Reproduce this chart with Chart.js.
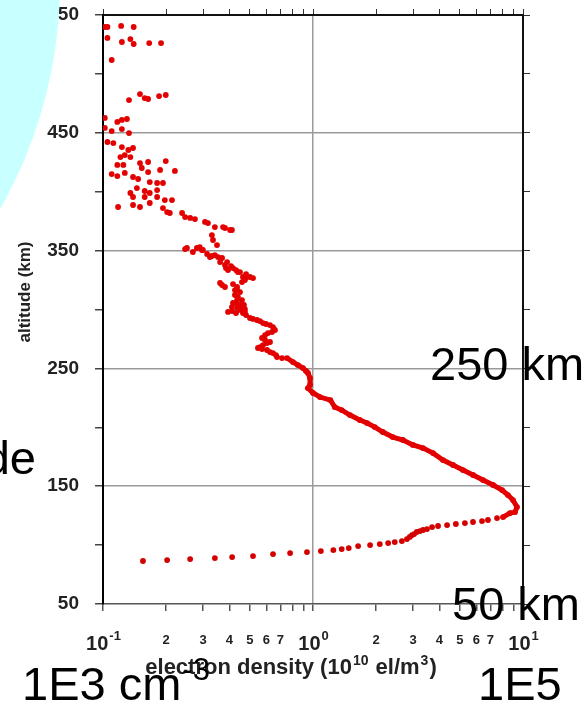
<!DOCTYPE html>
<html>
<head>
<meta charset="utf-8">
<title>Electron density profile</title>
<script src="https://cdn.jsdelivr.net/npm/chart.js@4.4.0/dist/chart.umd.min.js"></script>
<style>
  html, body { margin: 0; padding: 0; background: #fff; }
  #wrap { position: relative; width: 587px; height: 704px; }
</style>
</head>
<body>
<div id="wrap"><canvas id="chart"></canvas></div>
<script>
// topside samples (scattered), density in 1e10 el/m^3, altitude in km
const topDensity = [
  0.102, 0.105, 0.122, 0.140, 0.105, 0.123, 0.135, 0.140, 0.166, 0.189,
  0.110, 0.133, 0.150, 0.158, 0.164, 0.185, 0.199, 0.102, 0.117, 0.123,
  0.130, 0.102, 0.110, 0.123, 0.133, 0.105, 0.112, 0.123, 0.132, 0.139,
  0.127, 0.135, 0.121, 0.125, 0.117, 0.150, 0.164, 0.199, 0.153, 0.164,
  0.187, 0.220, 0.110, 0.117, 0.127, 0.139, 0.147, 0.167, 0.181, 0.193,
  0.145, 0.158, 0.167, 0.181, 0.135, 0.139, 0.158, 0.181, 0.197, 0.213,
  0.167, 0.118, 0.139, 0.150, 0.193, 0.202, 0.208, 0.238, 0.246, 0.260,
  0.274, 0.306, 0.316, 0.341, 0.373, 0.403, 0.381, 0.411, 0.330, 0.334,
  0.349, 0.251, 0.280, 0.246, 0.268, 0.289, 0.296, 0.313, 0.330, 0.323,
  0.353, 0.361, 0.381, 0.394, 0.385, 0.416, 0.439, 0.449, 0.464, 0.483,
  0.501, 0.459, 0.361, 0.369, 0.381, 0.435, 0.425, 0.425, 0.435, 0.416,
  0.411, 0.449, 0.449, 0.435, 0.459, 0.394
];
const topAltitude = [
  539.8, 539.8, 540.7, 539.8, 530.5, 527.1, 529.6, 525.4, 526.2, 526.2,
  511.8, 477.8, 482.9, 479.5, 478.7, 481.2, 482.1, 462.6, 459.2, 460.9,
  461.7, 454.1, 451.5, 453.2, 449.8, 442.2, 441.3, 437.9, 435.4, 437.1,
  431.1, 429.4, 429.4, 422.7, 422.7, 424.3, 425.2, 426.0, 420.1, 416.7,
  418.4, 417.6, 415.0, 413.3, 415.9, 412.5, 410.8, 408.2, 407.4, 407.4,
  403.1, 400.6, 398.9, 401.4, 398.9, 395.5, 395.5, 395.5, 392.9, 392.9,
  390.4, 387.0, 388.7, 387.0, 386.1, 382.7, 381.9, 381.9, 378.5, 377.7,
  376.8, 374.3, 373.4, 370.0, 370.0, 367.5, 369.2, 367.5, 363.2, 359.0,
  354.7, 352.2, 352.2, 351.3, 348.8, 353.0, 350.5, 347.1, 345.4, 344.5,
  344.5, 340.3, 337.8, 333.5, 335.2, 335.2, 331.8, 331.8, 327.6, 327.6,
  327.6, 323.3, 322.5, 320.8, 319.1, 316.5, 316.5, 312.3, 308.0, 305.5,
  302.1, 303.8, 302.1, 301.3, 299.6, 297.9
];

// dense clumps between 260 and 350 km
const clumpDensity = [
  0.299, 0.341, 0.369, 0.390, 0.407, 0.430, 0.480, 0.518, 0.474, 0.416,
  0.435, 0.449, 0.439, 0.459, 0.430, 0.469, 0.474, 0.444, 0.412, 0.430,
  0.464, 0.480, 0.501, 0.518, 0.474,
  0.541, 0.559, 0.578, 0.597, 0.624, 0.645, 0.659, 0.638, 0.610, 0.591,
  0.572, 0.591, 0.624, 0.604, 0.578, 0.559, 0.547, 0.572, 0.604, 0.624,
  0.645, 0.666, 0.674, 0.712
];
const clumpAltitude = [
  350.5, 346.2, 343.7, 340.3, 336.9, 333.5, 330.1, 326.7, 325.0, 321.6,
  319.1, 314.8, 310.6, 308.0, 305.5, 303.8, 300.4, 299.6, 298.7, 297.0,
  297.0, 295.3, 292.8, 292.0, 297.9,
  291.1, 290.2, 288.5, 287.7, 286.8, 285.1, 282.6, 280.9, 280.0, 278.3,
  275.8, 274.1, 272.4, 271.5, 269.8, 268.1, 267.3, 266.4, 265.6, 263.9,
  263.0, 261.3, 259.6, 258.8
];

// F region, continuous down to the peak
const fDensity = [
  0.752, 0.803, 0.848, 0.896, 0.926, 0.946, 0.968, 0.968, 0.946, 1.00,
  1.08, 1.21, 1.27, 1.37, 1.50, 1.67, 1.81, 1.97, 2.15, 2.40,
  2.68, 2.99, 3.34, 3.73, 4.16, 4.64, 5.18, 5.78, 6.45, 7.20,
  7.95, 8.48, 8.96, 9.36, 9.16, 8.67, 8.03
];
const fAltitude = [
  258.8, 255.4, 252.8, 250.3, 247.8, 246.1, 241.8, 235.9, 233.3, 229.1,
  225.7, 223.1, 217.2, 214.6, 210.4, 206.2, 203.6, 200.2, 196.0, 191.7,
  189.2, 185.0, 182.4, 178.1, 172.2, 168.0, 163.7, 159.5, 155.2, 151.0,
  146.7, 142.5, 138.2, 132.3, 128.0, 127.2, 123.8
];

// bottomside and E region
const lowDensity = [
  7.52, 6.81, 6.38, 5.78, 5.29, 4.79, 4.35, 3.94, 3.69, 3.49,
  3.34, 3.23, 3.12, 3.03, 2.96, 2.89, 2.80, 2.65, 2.45, 2.28,
  2.08, 1.87, 1.64, 1.48, 1.37, 1.25, 1.09, 0.936, 0.778, 0.645,
  0.518, 0.412, 0.341, 0.260, 0.202, 0.155
];
const lowAltitude = [
  122.9, 121.3, 120.4, 119.6, 118.7, 117.9, 117.0, 116.2, 115.3, 113.6,
  112.8, 111.9, 111.1, 109.4, 108.5, 106.9, 105.1, 103.4, 102.6, 101.7,
  100.9, 100.0, 99.2, 97.5, 96.6, 95.8, 94.9, 94.1, 93.2, 92.4,
  90.7, 89.8, 89.0, 88.1, 87.3, 86.5
];

const altLabels = [50, 150, 250, 350, 450, 550];
const gridAlts = [150, 250, 350, 450];
const mantissas = [1, 2, 3, 4, 5, 6, 7, 8, 9];
const minorLabels = [2, 3, 4, 5, 6, 7];
const decades = [0.1, 1, 10];
const decadeExp = ["-1", "0", "1"];

const family = "'Liberation Sans', Arial, sans-serif";
const red = "rgb(226, 0, 0)";
const clear = "rgba(0, 0, 0, 0)";

// 0.1, 0.2 ... 0.9, 1, 2 ... 9, 10
const xTicks = [];
decades.slice(0, 2).forEach(d => mantissas.forEach(m => xTicks.push(+(d * m).toPrecision(3))));
xTicks.push(decades[2]);

function toPoints(xs, ys) {
  return xs.map((x, i) => ({ x: x, y: ys[i] }));
}

function mantissa(v) {
  const e = Math.floor(Math.log10(v) + 1e-9);
  return Math.round(v / Math.pow(10, e));
}

function setLogTicks(scale) {
  scale.ticks = xTicks.map(v => ({ value: v, major: minorLabels.indexOf(mantissa(v)) < 0 }));
}

// fixed box sizes so the plot frame sits at 103..523 x 15..604
function fixBox(w, h) {
  return s => {
    if (w !== null) s.width = w;
    if (h !== null) s.height = h;
    s.paddingTop = 0;
    s.paddingBottom = 0;
    s.paddingLeft = 0;
    s.paddingRight = 0;
  };
}

// labels, titles and slide decorations drawn on top of the chart
const overlay = {
  id: "overlay",
  afterDraw(chart) {
    const ctx = chart.ctx;
    const xs = chart.scales.x;
    ctx.save();
    ctx.textBaseline = "alphabetic";
    ctx.textAlign = "left";
    ctx.fillStyle = "#222";

    decades.forEach((d, i) => {
      const px = xs.getPixelForValue(d);
      ctx.font = "bold 20px " + family;
      const w1 = ctx.measureText("10").width;
      ctx.font = "bold 13px " + family;
      const w2 = ctx.measureText(decadeExp[i]).width;
      const left = px - (w1 + w2) / 2;
      ctx.font = "bold 20px " + family;
      ctx.fillText("10", left, 650);
      ctx.font = "bold 13px " + family;
      ctx.fillText(decadeExp[i], left + w1 + 1, 640);
    });

    // x axis title with superscripts
    const parts = [
      ["electron density (10", false],
      ["10", true],
      [" el/m", false],
      ["3", true],
      [")", false]
    ];
    const big = "bold 22px " + family;
    const small = "bold 14px " + family;
    let total = 0;
    parts.forEach(p => {
      ctx.font = p[1] ? small : big;
      total += ctx.measureText(p[0]).width + (p[1] ? 2 : 0);
    });
    let tx = 291 - total / 2;
    parts.forEach(p => {
      ctx.font = p[1] ? small : big;
      ctx.fillText(p[0], tx + (p[1] ? 1 : 0), p[1] ? 665 : 674);
      tx += ctx.measureText(p[0]).width + (p[1] ? 2 : 0);
    });

    // y axis title
    ctx.save();
    ctx.translate(24, 292);
    ctx.rotate(-Math.PI / 2);
    ctx.textAlign = "center";
    ctx.font = "bold 17px " + family;
    ctx.fillText("altitude (km)", 0, 6);
    ctx.restore();

    // pale cyan disc from the slide background
    ctx.fillStyle = "#c8ffff";
    ctx.beginPath();
    ctx.arc(-396, -17, 456, 0, Math.PI * 2);
    ctx.fill();

    ctx.fillStyle = "#000";
    ctx.font = "47px " + family;
    ctx.fillText("250 km", 430, 380);
    ctx.fillText("50 km", 452, 620);
    ctx.fillText("1E5", 478, 700);
    ctx.fillText("1E3 cm", 22, 700);
    const cmw = ctx.measureText("1E3 cm").width;
    ctx.font = "31px " + family;
    ctx.fillText("-3", 22 + cmw + 1, 680);
    ctx.font = "47px " + family;
    ctx.textAlign = "right";
    ctx.fillText("de", 36, 474);
    ctx.restore();
  }
};

const dots = {
  pointRadius: 2.9,
  pointBorderWidth: 0,
  pointBackgroundColor: red
};

const chart = new Chart(document.getElementById("chart").getContext("2d"), {
  type: "scatter",
  data: {
    datasets: [
      Object.assign({ label: "topside", data: toPoints(topDensity, topAltitude) }, dots),
      Object.assign({ label: "clumps", data: toPoints(clumpDensity, clumpAltitude) }, dots),
      Object.assign({
        label: "F region",
        data: toPoints(fDensity, fAltitude),
        showLine: true,
        borderColor: red,
        borderWidth: 5,
        tension: 0
      }, dots),
      Object.assign({ label: "bottomside", data: toPoints(lowDensity, lowAltitude) }, dots,
        { pointBackgroundColor: "rgb(212, 0, 0)" })
    ]
  },
  options: {
    responsive: true,
    maintainAspectRatio: false,
    animation: false,
    layout: { padding: 0 },
    plugins: {
      legend: { display: false },
      tooltip: { enabled: false }
    },
    scales: {
      x: {
        type: "logarithmic",
        position: "bottom",
        min: 0.1,
        max: 10,
        afterBuildTicks: setLogTicks,
        afterFit: fixBox(null, 100),
        border: { color: "#555", width: 1.5 },
        grid: {
          color: c => (c.tick && c.tick.value === 1 ? "#9a9a9a" : clear),
          lineWidth: 1.5,
          tickColor: "#555",
          tickLength: 7
        },
        ticks: {
          autoSkip: false,
          maxRotation: 0,
          padding: 22,
          color: "#222",
          font: { family: family, size: 13, weight: "bold" },
          callback: v => (minorLabels.includes(mantissa(v)) ? String(mantissa(v)) : "")
        }
      },
      x2: {
        type: "logarithmic",
        axis: "x",
        position: "top",
        min: 0.1,
        max: 10,
        afterBuildTicks: setLogTicks,
        afterFit: fixBox(null, 15),
        border: { color: "#111", width: 2 },
        grid: { color: clear, tickColor: "#333", tickLength: 6 },
        ticks: { display: false, autoSkip: false }
      },
      y: {
        type: "linear",
        position: "left",
        min: 50,
        max: 550,
        afterFit: fixBox(103, null),
        border: { color: "#000", width: 2 },
        grid: {
          color: c => (c.tick && gridAlts.includes(c.tick.value) ? "#9a9a9a" : clear),
          lineWidth: 1.5,
          tickColor: "#444",
          tickLength: 8
        },
        ticks: {
          stepSize: 50,
          autoSkip: false,
          padding: 16,
          color: "#222",
          font: { family: family, size: 19, weight: "bold" },
          callback: v => (altLabels.includes(v) ? String(v) : "")
        }
      },
      y2: {
        type: "linear",
        axis: "y",
        position: "right",
        min: 50,
        max: 550,
        afterFit: fixBox(64, null),
        border: { color: "#111", width: 2 },
        grid: { color: clear, tickColor: "#333", tickLength: 7 },
        ticks: { display: false, stepSize: 50, autoSkip: false }
      }
    }
  },
  plugins: [overlay]
});
</script>
</body>
</html>
